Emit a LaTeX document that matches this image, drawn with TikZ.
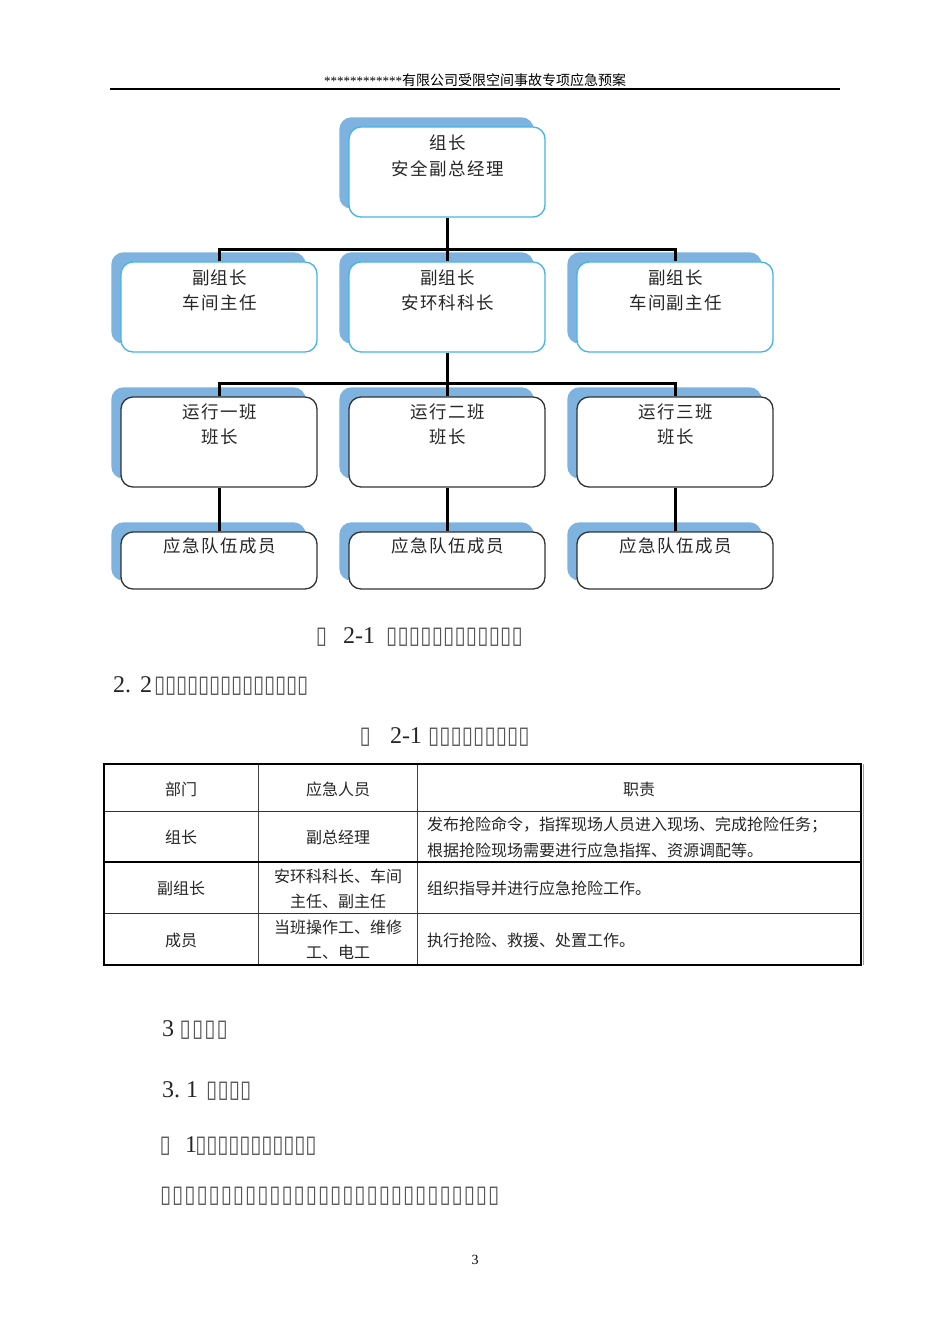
\documentclass[tikz,border=0pt]{standalone}
\usepackage{fontspec}
\setmainfont{Liberation Serif}
\newfontfamily\cjk{Noto Sans CJK SC}
\newfontfamily\cjkwide[LetterSpace=8]{Noto Sans CJK SC}
\newfontfamily\tofufont[FakeStretch=0.85]{DejaVu Sans}
\usetikzlibrary{backgrounds,calc}
\definecolor{shadowblue}{HTML}{7DB3DE}
\definecolor{cyanline}{HTML}{45B5E5}
\definecolor{darkline}{HTML}{333333}
\definecolor{tofugray}{HTML}{555555}
\newlength\tofuw
\setlength\tofuw{11pt}
\newcommand{\tofu}{\makebox[\tofuw]{\tofufont\fontsize{24}{24}\selectfont\textcolor{tofugray}{▯}}}
\newcount\tofucnt
\newcommand{\tofus}[1]{\tofucnt=#1\relax\loop\ifnum\tofucnt>0 \tofu\advance\tofucnt by -1\repeat}
\newcommand{\dg}{\fontsize{24}{24}\selectfont}
\tikzset{
  orgbox/.style={draw, rounded corners=12pt, minimum width=196pt, minimum height=90pt, fill=white, inner sep=0pt, line width=1.3pt},
  topbox/.style={orgbox, draw=cyanline},
  lowbox/.style={orgbox, draw=darkline},
  leafbox/.style={lowbox, minimum height=57pt},
  boxtext/.style={inner sep=0pt, xshift=0.7pt, font=\cjkwide\fontsize{17.5}{17.5}\selectfont, text=black!85},
  tabtext/.style={inner sep=0pt, font=\cjk\fontsize{16}{16}\selectfont, text=black!85},
  conn/.style={line width=3pt, black},
  shadowfill/.style={fill=shadowblue, rounded corners=12pt},
  para/.style={inner sep=0pt, anchor=base west, text=black!85}
}
\begin{document}
\begin{tikzpicture}[x=1pt,y=-1pt]
\useasboundingbox (0,0) rectangle (950,1344);

% header
\node[anchor=base, inner sep=0pt] (hdr) at (475,85) {\fontsize{13}{13}\selectfont ************\cjk\fontsize{14}{14}\selectfont 有限公司受限空间事故专项应急预案};
\draw[line width=2pt] (110,89) -- (840,89);

% org boxes
\node[topbox] (lead) at (447,172) {};
\node[topbox] (dep1) at (219,307) {};
\node[topbox] (dep2) at (447,307) {};
\node[topbox] (dep3) at (675,307) {};
\node[lowbox] (sh1) at (219,442) {};
\node[lowbox] (sh2) at (447,442) {};
\node[lowbox] (sh3) at (675,442) {};
\node[leafbox] (lf1) at (219,560.5) {};
\node[leafbox] (lf2) at (447,560.5) {};
\node[leafbox] (lf3) at (675,560.5) {};

\begin{scope}[on background layer]
\fill[white] (0,0) rectangle (950,1344);
\foreach \n in {lead,dep1,dep2,dep3,sh1,sh2,sh3,lf1,lf2,lf3}
  \fill[shadowfill] ($(\n.north west)+(-9,-9)$) rectangle ($(\n.south east)+(-12,-9)$);
\end{scope}

% box texts
\node[boxtext] (lead-a) at (447,143) {组长};
\node[boxtext] (lead-b) at (447,169) {安全副总经理};
\node[boxtext] (dep1-a) at (219,278) {副组长};
\node[boxtext] (dep1-b) at (219,303) {车间主任};
\node[boxtext] (dep2-a) at (447,278) {副组长};
\node[boxtext] (dep2-b) at (447,303) {安环科科长};
\node[boxtext] (dep3-a) at (675,278) {副组长};
\node[boxtext] (dep3-b) at (675,303) {车间副主任};
\node[boxtext] (sh1-a) at (219,412) {运行一班};
\node[boxtext] (sh1-b) at (219,437) {班长};
\node[boxtext] (sh2-a) at (447,412) {运行二班};
\node[boxtext] (sh2-b) at (447,437) {班长};
\node[boxtext] (sh3-a) at (675,412) {运行三班};
\node[boxtext] (sh3-b) at (675,437) {班长};
\node[boxtext] (lf1-a) at (219,546) {应急队伍成员};
\node[boxtext] (lf2-a) at (447,546) {应急队伍成员};
\node[boxtext] (lf3-a) at (675,546) {应急队伍成员};

% connectors
\coordinate (j1) at (447,249);
\draw[conn] (lead.south) -- (j1);
\draw[conn] (dep1.north) -- (dep1.north |- j1) -- (dep3.north |- j1) -- (dep3.north);
\draw[conn] (j1) -- (dep2.north);
\coordinate (j2) at (447,383);
\draw[conn] (dep2.south) -- (j2);
\draw[conn] (sh1.north) -- (sh1.north |- j2) -- (sh3.north |- j2) -- (sh3.north);
\draw[conn] (j2) -- (sh2.north);
\draw[conn] (sh1.south) -- (lf1.north);
\draw[conn] (sh2.south) -- (lf2.north);
\draw[conn] (sh3.south) -- (lf3.north);

% captions and headings
\node[para] (cap1) at (315.5,643) {\setlength\tofuw{11.4pt}\tofu\hspace{16pt}\dg 2-1\hspace{11pt}\tofus{12}};
\node[para] (sec22) at (113,692) {\setlength\tofuw{11pt}\dg 2.\hspace{9pt}2\hspace{2pt}\tofus{14}};
\node[para] (cap2) at (359.5,743) {\setlength\tofuw{11.3pt}\tofu\hspace{19pt}\dg 2-1\hspace{6pt}\tofus{9}};

% table
\draw[line width=1pt, black!75] (258,764) -- (258,965);
\draw[line width=1pt, black!75] (417,764) -- (417,965);
\draw[line width=1pt, black!80] (104,811) -- (861,811);
\draw[line width=2pt] (104,862) -- (861,862);
\draw[line width=1pt, black!80] (104,913) -- (861,913);
\draw[line width=2pt] (104,764) rectangle (861,965);
\draw[line width=1.2pt, cyanline] (863.5,764) -- (863.5,965);

\node[tabtext] (t11) at (181,789) {部门};
\node[tabtext] (t12) at (338,789) {应急人员};
\node[tabtext] (t13) at (639,789) {职责};
\node[tabtext] (t21) at (181,837) {组长};
\node[tabtext] (t22) at (338,837) {副总经理};
\node[tabtext, anchor=west] (t23a) at (427,825) {发布抢险命令，指挥现场人员进入现场、完成抢险任务；};
\node[tabtext, anchor=west] (t23b) at (427,850) {根据抢险现场需要进行应急指挥、资源调配等。};
\node[tabtext] (t31) at (181,888) {副组长};
\node[tabtext] (t32a) at (338,876) {安环科科长、车间};
\node[tabtext] (t32b) at (338,901) {主任、副主任};
\node[tabtext, anchor=west] (t33) at (427,888) {组织指导并进行应急抢险工作。};
\node[tabtext] (t41) at (181,940) {成员};
\node[tabtext] (t42a) at (338,927) {当班操作工、维修};
\node[tabtext] (t42b) at (338,952) {工、电工};
\node[tabtext, anchor=west] (t43) at (427,940) {执行抢险、救援、处置工作。};

% sections below
\node[para] (sec3) at (162,1036) {\setlength\tofuw{12.3pt}\dg 3\hspace{5pt}\tofus{4}};
\node[para] (sec31) at (162,1097) {\setlength\tofuw{11.3pt}\dg 3.\hspace{6pt}1\hspace{8pt}\tofus{4}};
\node[para] (item1) at (159.5,1152) {\setlength\tofuw{11pt}\tofu\hspace{14.5pt}\dg 1\hspace{-1.7pt}\tofus{11}};
\node[para] (body1) at (159.4,1202) {\setlength\tofuw{12.15pt}\tofus{28}};

\node[anchor=base, inner sep=0pt] (pgno) at (475,1264) {\fontsize{14}{14}\selectfont 3};
\end{tikzpicture}
\end{document}
